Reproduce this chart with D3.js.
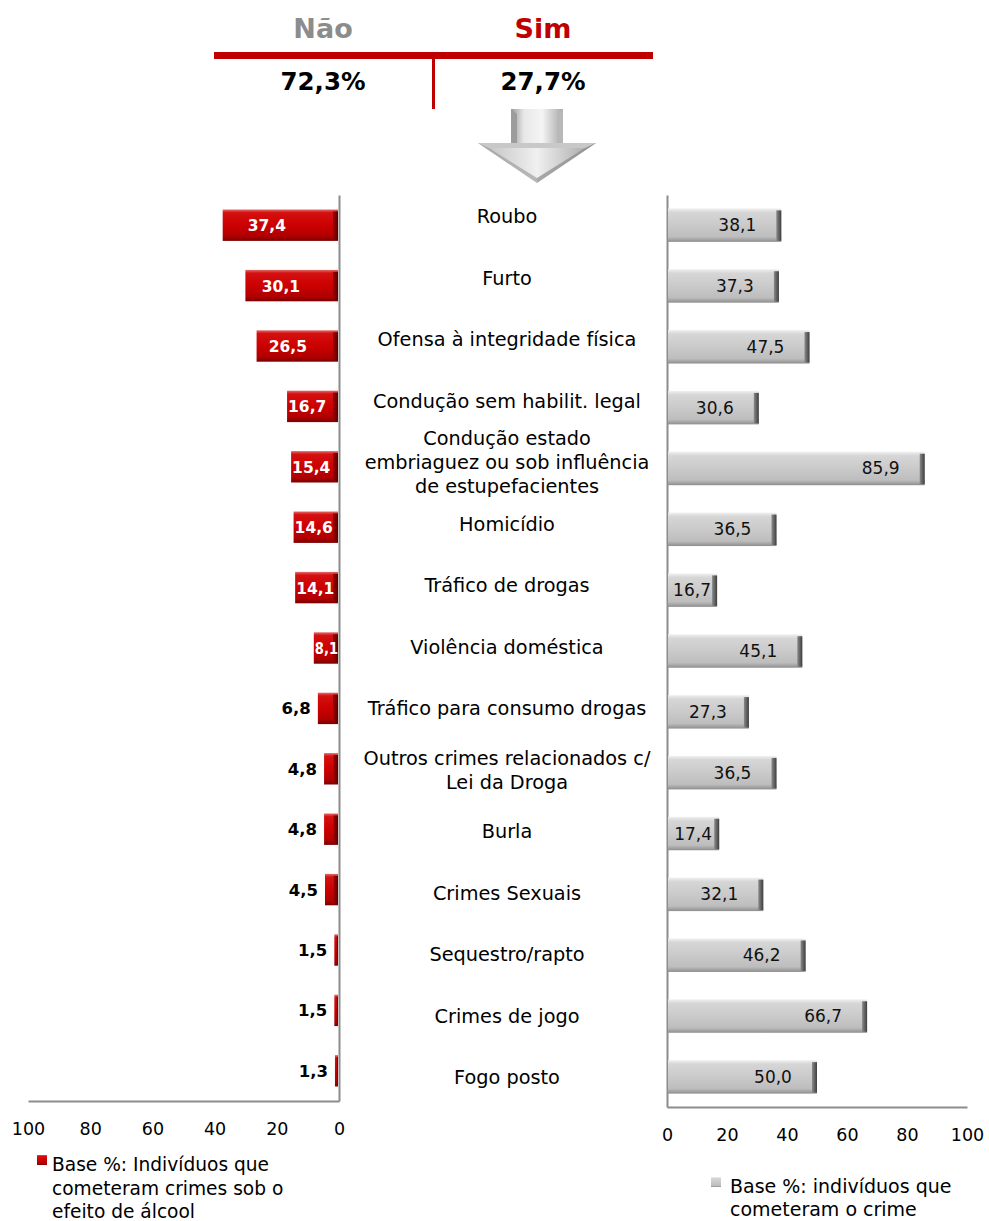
<!DOCTYPE html>
<html><head><meta charset="utf-8">
<script src="https://cdn.jsdelivr.net/npm/d3@7"></script>
<style>body{margin:0;background:#fff}svg{display:block}</style>
</head><body>
<svg id="c" width="989" height="1221"></svg>
<script>
const categories = ["Roubo","Furto","Ofensa à integridade física","Condução sem habilit. legal",
  "Condução estado\nembriaguez ou sob influência\nde estupefacientes","Homicídio","Tráfico de drogas",
  "Violência doméstica","Tráfico para consumo drogas","Outros crimes relacionados c/\nLei da Droga",
  "Burla","Crimes Sexuais","Sequestro/rapto","Crimes de jogo","Fogo posto"];
const alcoholValues = [37.4,30.1,26.5,16.7,15.4,14.6,14.1,8.1,6.8,4.8,4.8,4.5,1.5,1.5,1.3];
const crimeValues = [38.1,37.3,47.5,30.6,85.9,36.5,16.7,45.1,27.3,36.5,17.4,32.1,46.2,66.7,50.0];
const tickValues = [0,20,40,60,80,100];
const headerLabels = ["Não","Sim"];
const headerValues = ["72,3%","27,7%"];
const legendLeft = ["Base %: Indivíduos que","cometeram crimes sob o","efeito de álcool"];
const legendRight = ["Base %:  indivíduos que","cometeram o crime"];

const fmt = v => d3.format(".1f")(v).replace(".", ",");
const FONT = "DejaVu Sans";
const svg = d3.select("#c");
const defs = svg.append("defs");

function vgrad(id, stops){
  const g = defs.append("linearGradient").attr("id",id).attr("x1",0).attr("y1",0).attr("x2",0).attr("y2",1);
  stops.forEach(([o,c])=>g.append("stop").attr("offset",o).attr("stop-color",c));
}
function hgrad(id, stops){
  const g = defs.append("linearGradient").attr("id",id).attr("x1",0).attr("y1",0).attr("x2",1).attr("y2",0);
  stops.forEach(([o,c])=>g.append("stop").attr("offset",o).attr("stop-color",c));
}
vgrad("redG", [[0,"#e46a6a"],[0.1,"#d41010"],[0.5,"#cc0000"],[0.85,"#b00000"],[1,"#7a0000"]]);
hgrad("redCap", [[0,"#a00000"],[1,"#5a0000"]]);
vgrad("greyG", [[0,"#f0f0f0"],[0.12,"#d6d6d6"],[0.5,"#cacaca"],[0.85,"#bdbdbd"],[1,"#8e8e8e"]]);
hgrad("greyCap", [[0,"#8a8a8a"],[1,"#3e3e3e"]]);
hgrad("arrShaft", [[0,"#9a9a9a"],[0.25,"#e8e8e8"],[0.6,"#f4f4f4"],[1,"#a8a8a8"]]);
hgrad("arrHead2", [[0,"#bdbdbd"],[0.5,"#f0f0f0"],[1,"#a0a0a0"]]);

// ---------- Header ----------
const hx = d3.scalePoint().domain([0,1]).range([323,543]);
svg.selectAll("text.hl").data(headerLabels).join("text")
  .attr("x",(d,i)=>hx(i)).attr("y",38).attr("text-anchor","middle")
  .attr("font-family",FONT).attr("font-weight","bold").attr("font-size",27)
  .attr("fill",(d,i)=>i===0?"#8c8c8c":"#c00000").text(d=>d);
svg.append("rect").attr("x",214).attr("y",52).attr("width",439).attr("height",7).attr("fill","#c00000");
svg.append("rect").attr("x",432).attr("y",58).attr("width",3).attr("height",51).attr("fill","#c00000");
svg.selectAll("text.hv").data(headerValues).join("text")
  .attr("x",(d,i)=>hx(i)).attr("y",90).attr("text-anchor","middle")
  .attr("font-family",FONT).attr("font-weight","bold").attr("font-size",24.5)
  .attr("fill","#000").text(d=>d);

// ---------- Arrow ----------
const ag = svg.append("g");
ag.append("polygon").attr("points","511,109 563,109 563,144 511,144").attr("fill","url(#arrShaft)");
ag.append("polygon").attr("points","511,109 517,114 517,144 511,144").attr("fill","#9c9c9c");
ag.append("polygon").attr("points","563,109 557,114 557,144 563,144").attr("fill","#b8b8b8");
ag.append("polygon").attr("points","478,143 596,143 537,183").attr("fill","url(#arrHead2)");
ag.append("polygon").attr("points","478,143 596,143 585,148 489,148").attr("fill","#c8c8c8");
ag.append("polygon").attr("points","489,148 537,178 537,183 478,143").attr("fill","#a0a0a0").attr("opacity",0.7);
ag.append("polygon").attr("points","585,148 537,178 537,183 596,143").attr("fill","#8a8a8a").attr("opacity",0.7);

// ---------- Left chart ----------
const xL = d3.scaleLinear().domain([0,100]).range([339,28]);
const yL = d3.scaleBand().domain(categories).range([195,1101]).paddingInner(0.48).paddingOuter(0.24);
const gL = svg.append("g");
gL.append("g").attr("transform","translate(0,1101)")
  .call(d3.axisBottom(xL).tickValues(tickValues).tickSize(0).tickSizeOuter(0).tickPadding(22).tickFormat(d3.format("d")))
  .call(g=>{g.select(".domain").attr("stroke","#8c8c8c").attr("stroke-width",2);
    g.selectAll("text").attr("font-family",FONT).attr("font-size",17.5).attr("fill","#000");});
gL.append("g").attr("transform","translate(339,0)")
  .call(d3.axisRight(yL).tickSize(0).tickSizeOuter(0).tickFormat(""))
  .call(g=>g.select(".domain").attr("stroke","#8c8c8c").attr("stroke-width",2));

const barsL = gL.selectAll("g.bl").data(alcoholValues).join("g").attr("class","bl");
barsL.append("rect")
  .attr("x",d=>xL(d)).attr("y",(d,i)=>yL(categories[i]))
  .attr("width",d=>xL(0)-xL(d)-1).attr("height",yL.bandwidth())
  .attr("fill","url(#redG)");
barsL.append("rect")
  .attr("x",d=>xL(0)-1-Math.min(5,(xL(0)-xL(d))*0.3)).attr("y",(d,i)=>yL(categories[i])+2)
  .attr("width",d=>Math.min(5,(xL(0)-xL(d))*0.3)).attr("height",yL.bandwidth()-3)
  .attr("fill","url(#redCap)");
barsL.append("text")
  .attr("y",(d,i)=>yL(categories[i])+yL.bandwidth()/2+6)
  .attr("text-anchor",d=>d>=8?"middle":"end")
  .attr("font-family",FONT).attr("font-weight","bold").attr("font-size",d=>d>=8?15.5:16.5)
  .attr("fill",d=>d>=8?"#fff":"#000").text(d=>fmt(d))
  .each(function(d){
    const t = d3.select(this);
    if (d >= 8) {
      const w = xL(0)-xL(d);
      let len = this.getComputedTextLength();
      if (len > w - 2) {
        len = w - 2;
        t.attr("textLength", len).attr("lengthAdjust","spacingAndGlyphs");
      }
      const cx = Math.min(xL(d)+0.38*w, xL(0)-1-len/2);
      t.attr("x", Math.max(cx, xL(d)+1+len/2));
    } else {
      t.attr("x", xL(d)-7);
    }
  });

// ---------- Right chart ----------
const xR = d3.scaleLinear().domain([0,100]).range([667,967]);
const yR = d3.scaleBand().domain(categories).range([195,1107]).paddingInner(0.45).paddingOuter(0.22);
const gR = svg.append("g");
gR.append("g").attr("transform","translate(0,1107)")
  .call(d3.axisBottom(xR).tickValues(tickValues).tickSize(0).tickSizeOuter(0).tickPadding(22).tickFormat(d3.format("d")))
  .call(g=>{g.select(".domain").attr("stroke","#8c8c8c").attr("stroke-width",2);
    g.selectAll("text").attr("font-family",FONT).attr("font-size",17.5).attr("fill","#000");});
gR.append("g").attr("transform","translate(667,0)")
  .call(d3.axisLeft(yR).tickSize(0).tickSizeOuter(0).tickFormat(""))
  .call(g=>g.select(".domain").attr("stroke","#8c8c8c").attr("stroke-width",2));

const barsR = gR.selectAll("g.br").data(crimeValues).join("g").attr("class","br");
barsR.append("rect")
  .attr("x",xR(0)+1).attr("y",(d,i)=>yR(categories[i]))
  .attr("width",d=>xR(d)-xR(0)-1).attr("height",yR.bandwidth())
  .attr("fill","url(#greyG)");
barsR.append("rect")
  .attr("x",d=>xR(d)-5).attr("y",(d,i)=>yR(categories[i])+2)
  .attr("width",5).attr("height",yR.bandwidth()-3)
  .attr("fill","url(#greyCap)");
barsR.append("text")
  .attr("x",d=>{const w=xR(d)-xR(0); return xR(0)+Math.max(w/2, w-44);})
  .attr("y",(d,i)=>yR(categories[i])+yR.bandwidth()/2+6)
  .attr("text-anchor","middle")
  .attr("font-family",FONT).attr("font-size",17)
  .attr("fill","#111").text(d=>fmt(d));

// ---------- Category labels ----------
const yLab = d3.scalePoint().domain(categories).range([216,1077]);
const lab = svg.selectAll("text.cat").data(categories).join("text")
  .attr("text-anchor","middle").attr("font-family",FONT).attr("font-size",19.3).attr("fill","#000");
lab.each(function(d){
  const lines = d.split("\n");
  const cy = yLab(d);
  const t = d3.select(this);
  lines.forEach((ln,k)=>{
    t.append("tspan").attr("x",507).attr("y",cy + (k-(lines.length-1)/2)*24 + 7).text(ln);
  });
});

// ---------- Legends ----------
svg.append("rect").attr("x",37).attr("y",1155).attr("width",10).attr("height",10).attr("fill","url(#redG)");
svg.selectAll("text.lgl").data(legendLeft).join("text")
  .attr("x",52).attr("y",(d,i)=>1171+i*23.5)
  .attr("font-family",FONT).attr("font-size",18.6).attr("fill","#000").text(d=>d);
svg.append("rect").attr("x",711).attr("y",1177).attr("width",10).attr("height",10).attr("fill","url(#greyG)");
svg.selectAll("text.lgr").data(legendRight).join("text")
  .attr("x",730).attr("y",(d,i)=>1193+i*23)
  .attr("font-family",FONT).attr("font-size",19).attr("fill","#000").text(d=>d);
</script>
</body></html>
